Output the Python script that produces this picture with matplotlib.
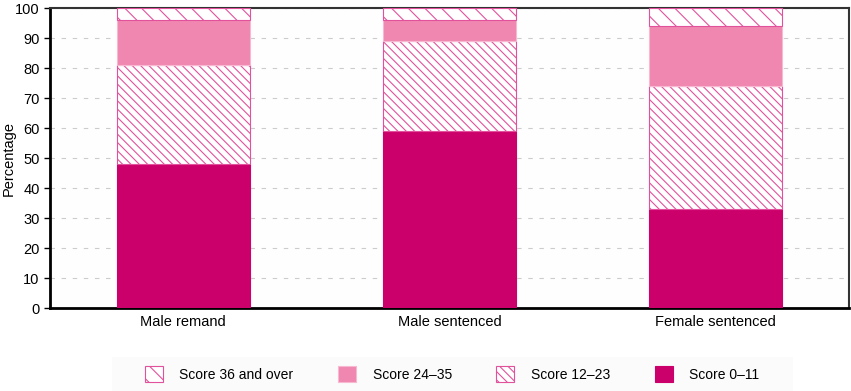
import matplotlib.pyplot as plt
import matplotlib as mpl
from matplotlib.patches import Rectangle
import numpy as np

categories = ['Male remand', 'Male sentenced', 'Female sentenced']
score_0_11 = [48, 59, 33]
score_12_23 = [33, 30, 41]
score_24_35 = [15, 7, 20]
score_36_over = [4, 4, 6]

mpl.rcParams['hatch.color'] = '#E2529C'
mpl.rcParams['hatch.linewidth'] = 0.8
plt.rcParams['font.family'] = ['Liberation Sans', 'DejaVu Sans']

fig = plt.figure(figsize=(8.51, 3.91), dpi=100)
ax = fig.add_axes([50/851, 1-308/391, 799/851, 300/391])

x = np.arange(len(categories))
w = 0.5
b1 = ax.bar(x, score_0_11, w, color='#CC006B', edgecolor='#CC006B', lw=0.8, zorder=3)
bot = np.array(score_0_11)
b2 = ax.bar(x, score_12_23, w, bottom=bot, color='white', edgecolor='#E2529C',
            hatch='\\\\\\\\', lw=0.8, zorder=3)
bot = bot + np.array(score_12_23)
b3 = ax.bar(x, score_24_35, w, bottom=bot, color='#F087B0', edgecolor='#F7B8D0', lw=0.8, zorder=3)
bot = bot + np.array(score_24_35)
b4 = ax.bar(x, score_36_over, w, bottom=bot, color='white', edgecolor='#E2529C',
            hatch='\\\\', lw=0.8, zorder=3)

ax.set_xlim(-0.5, 2.5)
ax.set_ylim(0, 100)
ax.set_yticks(range(0, 101, 10))
ax.set_xticks(x)
ax.set_xticklabels(categories, fontsize=10.5)
ax.tick_params(axis='y', labelsize=10.5, length=4, width=1)
ax.tick_params(axis='x', length=0, pad=5)
ax.set_ylabel('Percentage', fontsize=10.5)
ax.yaxis.set_label_coords(-0.043, 0.5)
ax.yaxis.grid(True, color='#CCCCCC', ls=(0, (4, 6)), lw=0.8)
ax.set_facecolor('#FDFEFD')
for s in ['top', 'right']:
    ax.spines[s].set_linewidth(1.5)
    ax.spines[s].set_color('#333333')
ax.spines['left'].set_linewidth(2)
ax.spines['bottom'].set_linewidth(2)

# legend background band
fig.patches.append(Rectangle((112/851, 0), 681/851, 34/391, transform=fig.transFigure,
                             facecolor='#FAFBFA', edgecolor='none', zorder=0))

leg = fig.legend([b4, b3, b2, b1],
                 ['Score 36 and over', 'Score 24\u201335', 'Score 12\u201323', 'Score 0\u201311'],
                 loc='center', bbox_to_anchor=(452/851, 1-374/391), ncol=4,
                 frameon=False, fontsize=10, handlelength=1.3, handleheight=1.3,
                 columnspacing=3.2, handletextpad=1.2, borderpad=0.3, borderaxespad=0)

fig.savefig('out.png', dpi=100)
